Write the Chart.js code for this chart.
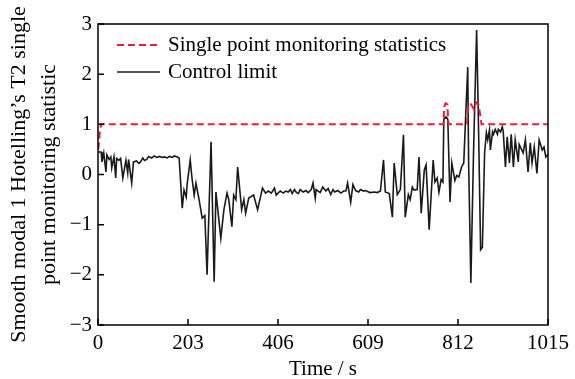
<!DOCTYPE html>
<html>
<head>
<meta charset="utf-8">
<script src="https://cdn.jsdelivr.net/npm/chart.js@4"></script>
<style>
  html, body { margin: 0; padding: 0; background: #fff; }
</style>
</head>
<body>
<canvas id="chart" width="575" height="379"></canvas>
<script>
// Black trace
const timeSec = [0, 2, 7, 9, 13, 18, 20, 25, 29, 31, 36, 40, 42, 47, 51, 56, 63, 67, 69, 76, 80, 87, 92, 96, 101, 105, 110, 114, 121, 127, 132, 139, 145, 150, 156, 161, 168, 172, 179, 183,
  190, 194, 199, 201, 208, 212, 217, 221, 228, 235, 241, 246, 255, 262, 266, 277, 284, 291, 295, 302, 306, 311, 315, 324, 329, 333, 340, 351, 360, 371, 378, 384, 391, 398, 402, 411, 418, 423,
  429, 434, 438, 443, 447, 452, 456, 463, 469, 474, 481, 485, 490, 492, 501, 507, 514, 519, 525, 530, 534, 541, 548, 554, 559, 563, 570, 575, 581, 588, 592, 599, 604, 613, 624, 630, 637,
  644, 648, 657, 664, 668, 675, 682, 689, 693, 700, 704, 709, 713, 720, 724, 729, 736, 740, 747, 756, 760, 765, 769, 774, 778, 780, 785, 789, 794, 798, 805, 809, 814, 820, 825, 829, 834,
  836, 841, 847, 854, 858, 863, 867, 872, 876, 879, 883, 885, 890, 892, 896, 901, 903, 908, 912, 914, 919, 923, 928, 932, 937, 941, 948, 950, 959, 964, 970, 975, 979, 984, 990, 995,
  1002, 1006, 1010, 1015];
const statValues = [0.45, 0.45, 0.45, 0.25, 0.43, 0.05, 0.39, 0.3, 0.35, 0.13, 0.35, -0.07, 0.32, 0.28, 0.32, -0.07, 0.28, 0.03, 0.3, -0.17, 0.25, 0.27, 0.22, 0.25, 0.33, 0.28, 0.3, 0.36, 0.33, 0.37, 0.34, 0.36, 0.34, 0.35, 0.33, 0.36, 0.34, 0.37, 0.35, 0.33,
  -0.67, -0.31, -0.45, -0.2, 0.29, -0.07, -0.41, -0.17, -0.5, -0.87, -0.82, -2.0, 0.65, -2.14, -0.35, -1.27, -0.7, -0.37, -0.5, -1.04, -0.41, -0.5, 0.15, -0.7, -0.5, -0.77, -0.47, -0.41, -0.7, -0.27, -0.37, -0.33, -0.37, -0.27, -0.41, -0.33, -0.37, -0.33,
  -0.35, -0.3, -0.38, -0.3, -0.35, -0.38, -0.3, -0.35, -0.32, -0.36, -0.3, -0.17, -0.47, -0.3, -0.36, -0.25, -0.33, -0.28, -0.4, -0.3, -0.35, -0.32, -0.37, -0.33, -0.33, -0.17, -0.55, -0.2, -0.32, -0.35, -0.3, -0.33, -0.32, -0.36, -0.35, -0.36, -0.33,
  0.29, -0.35, -0.38, -0.85, 0.23, -0.4, -0.3, 0.79, -0.85, -0.4, -0.5, -0.25, -0.31, -0.3, 0.35, -0.77, 0.09, 0.19, -1.1, 0.29, -0.15, -0.07, -0.35, -0.1, -0.15, 1.1, 1.15, 1.1, -0.55, 0.23, -0.12, -0.02, -0.05, 0.15, 0.23, 1.1, 2.14,
  0.23, -2.16, 0.43, 2.88, 1.09, -1.5, -1.45, 0.43, 0.83, 0.69, 0.89, 0.49, 0.85, 0.8, 0.9, 0.8, 0.9, 0.85, 0.95, 0.85, 0.15, 0.75, 0.23, 0.8, 0.15, 0.69, 0.25, 0.6, 0.43, 0.69, 0.05, 0.63, 0.23, 0.55, 0.02, 0.69,
  0.49, 0.55, 0.35, 0.4];

// Red dashed trace
const limitTime = [0, 2, 4, 7, 779, 781, 784, 788, 790, 792, 832, 835, 840, 848, 853, 858, 862, 865, 1015];
const limitValues = [0.5, 0.6, 0.85, 1.0, 1.0, 1.35, 1.42, 1.4, 1.05, 1.0, 1.0, 1.35, 1.42, 1.3, 1.44, 1.4, 1.2, 1.0, 1.0];

const xTickValues = [0, 203, 406, 609, 812, 1015];
const yTickValues = [-3, -2, -1, 0, 1, 2, 3];
const seriesLabels = ['Single point monitoring statistics', 'Control limit'];

const serif = '"Liberation Serif", "Times New Roman", serif';

// box round the plot + inward tick marks
const frameTicks = {
  id: 'frameTicks',
  afterDraw(chart) {
    const { ctx, chartArea: a, scales: { x, y } } = chart;
    ctx.save();
    ctx.strokeStyle = '#000';
    ctx.lineWidth = 1.5;
    ctx.strokeRect(a.left, a.top, a.right - a.left, a.bottom - a.top);
    ctx.beginPath();
    xTickValues.forEach(v => {
      const px = x.getPixelForValue(v);
      ctx.moveTo(px, a.bottom); ctx.lineTo(px, a.bottom - 6);
    });
    yTickValues.forEach(v => {
      const py = y.getPixelForValue(v);
      ctx.moveTo(a.left, py); ctx.lineTo(a.left + 6, py);
    });
    ctx.stroke();
    ctx.restore();
  }
};

// legend drawn inside the plot, top-left
const insideLegend = {
  id: 'insideLegend',
  afterDraw(chart) {
    const { ctx, chartArea: a } = chart;
    ctx.save();
    chart.data.datasets.forEach((ds, i) => {
      const y = a.top + 21 + i * 27;
      ctx.strokeStyle = ds.borderColor;
      ctx.lineWidth = ds.borderWidth;
      ctx.setLineDash(ds.borderDash || []);
      ctx.beginPath();
      ctx.moveTo(a.left + 19, y); ctx.lineTo(a.left + 62, y);
      ctx.stroke();
      ctx.setLineDash([]);
      ctx.fillStyle = '#000';
      ctx.font = '21px ' + serif;
      ctx.textBaseline = 'middle';
      ctx.fillText(ds.label, a.left + 70, y);
    });
    ctx.restore();
  }
};

new Chart(document.getElementById('chart').getContext('2d'), {
  type: 'line',
  data: {
    datasets: [
      {
        label: seriesLabels[0],
        data: limitTime.map((t, i) => ({ x: t, y: limitValues[i] })),
        borderColor: '#e2233b',
        borderWidth: 2,
        borderDash: [7, 4],
        pointRadius: 0,
        tension: 0
      },
      {
        label: seriesLabels[1],
        data: timeSec.map((t, i) => ({ x: t, y: statValues[i] })),
        borderColor: '#1a1a1a',
        borderWidth: 1.6,
        pointRadius: 0,
        tension: 0
      }
    ]
  },
  options: {
    responsive: false,
    animation: false,
    layout: { padding: { top: 24, right: 23, left: 0, bottom: 0 } },
    plugins: { legend: { display: false }, tooltip: { enabled: false } },
    scales: {
      x: {
        type: 'linear',
        min: 0, max: 1015,
        afterBuildTicks: s => { s.ticks = xTickValues.map(v => ({ value: v })); },
        afterFit: s => { s.height = 54; },
        grid: { display: false, drawTicks: false },
        border: { display: false },
        ticks: { color: '#000', padding: 6, maxRotation: 0, font: { family: serif, size: 21 }, callback: v => String(v) },
        title: { display: true, text: 'Time / s', color: '#000', padding: { top: 0, bottom: 0 }, font: { family: serif, size: 21, lineHeight: 0.9 } }
      },
      y: {
        min: -3, max: 3,
        afterBuildTicks: s => { s.ticks = yTickValues.map(v => ({ value: v })); },
        afterFit: s => { s.width = 98; },
        grid: { display: false, drawTicks: false },
        border: { display: false },
        ticks: { color: '#000', padding: 6, font: { family: serif, size: 21 }, callback: v => v < 0 ? '\u2212' + Math.abs(v) : String(v) },
        title: {
          display: true,
          text: ['Smooth modal 1 Hotelling\u2019s T2 single', 'point monitoring statistic'],
          color: '#000',
          padding: { top: 4, bottom: 0 },
          font: { family: serif, size: 22, lineHeight: 1.36 }
        }
      }
    }
  },
  plugins: [frameTicks, insideLegend]
});
</script>
</body>
</html>
